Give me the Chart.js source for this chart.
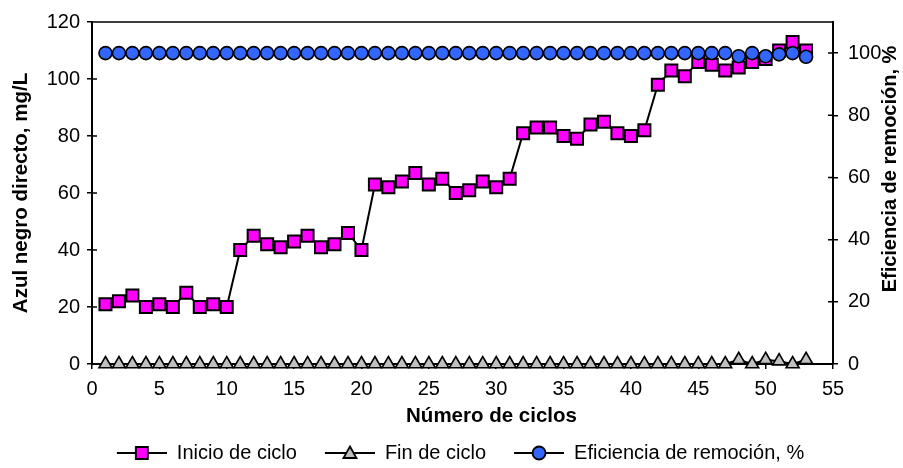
<!DOCTYPE html>
<html>
<head>
<meta charset="utf-8">
<script src="https://cdn.jsdelivr.net/npm/chart.js@4.4.0/dist/chart.umd.min.js"></script>
<style>
  html, body { margin: 0; padding: 0; background: #fff; }
</style>
</head>
<body>
<canvas id="grafico" width="903" height="468"></canvas>
<script>
// datos
const ciclos = [1, 2, 3, 4, 5, 6, 7, 8, 9, 10, 11, 12, 13, 14, 15, 16, 17, 18, 19, 20,
  21, 22, 23, 24, 25, 26, 27, 28, 29, 30, 31, 32, 33, 34, 35, 36, 37, 38, 39, 40,
  41, 42, 43, 44, 45, 46, 47, 48, 49, 50, 51, 52, 53];
const inicioCiclo = [21, 22, 24, 20, 21, 20, 25, 20, 21, 20,
  40, 45, 42, 41, 43, 45, 41, 42, 46, 40,
  63, 62, 64, 67, 63, 65, 60, 61, 64, 62,
  65, 81, 83, 83, 80, 79, 84, 85, 81, 80,
  82, 98, 103, 101, 106, 105, 103, 104, 106, 107,
  110, 113, 110];
const finCiclo = [0, 0, 0, 0, 0, 0, 0, 0, 0, 0,
  0, 0, 0, 0, 0, 0, 0, 0, 0, 0,
  0, 0, 0, 0, 0, 0, 0, 0, 0, 0,
  0, 0, 0, 0, 0, 0, 0, 0, 0, 0,
  0, 0, 0, 0, 0, 0, 0, 1.5, 0, 1.5,
  1, 0, 1.5];
const eficiencia = [100, 100, 100, 100, 100, 100, 100, 100, 100, 100,
  100, 100, 100, 100, 100, 100, 100, 100, 100, 100,
  100, 100, 100, 100, 100, 100, 100, 100, 100, 100,
  100, 100, 100, 100, 100, 100, 100, 100, 100, 100,
  100, 100, 100, 100, 100, 100, 100, 99, 100, 99,
  99.6, 100, 98.8];
const ticksX = [0, 5, 10, 15, 20, 25, 30, 35, 40, 45, 50, 55];
const ticksIzq = [0, 20, 40, 60, 80, 100, 120];
const ticksDer = [0, 20, 40, 60, 80, 100];

const tituloX = 'Número de ciclos';
const tituloIzq = 'Azul negro directo, mg/L';
const tituloDer = 'Eficiencia de remoción, %';

const fuente = '"Liberation Sans", Arial, sans-serif';
Chart.defaults.color = '#000';
Chart.defaults.font.family = fuente;

function aPuntos(valores) {
  return ciclos.map(function(c, i) {
    return { x: c, y: valores[i] };
  });
}

// icono de leyenda: linea con marcador
function iconoLeyenda(forma, relleno) {
  const c = document.createElement('canvas');
  c.width = 68;
  c.height = 18;
  const g = c.getContext('2d');
  g.strokeStyle = '#000';
  g.lineWidth = 2;
  g.beginPath();
  g.moveTo(18, 9);
  g.lineTo(68, 9);
  g.stroke();
  g.fillStyle = relleno;
  g.lineWidth = 1.8;
  g.beginPath();
  const cx = 43, cy = 9;
  if (forma === 'rect') {
    g.rect(cx - 6, cy - 6, 12, 12);
  } else if (forma === 'triangle') {
    g.moveTo(cx, cy - 6.5);
    g.lineTo(cx + 6.5, cy + 5);
    g.lineTo(cx - 6.5, cy + 5);
    g.closePath();
  } else {
    g.arc(cx, cy, 6.5, 0, Math.PI * 2);
  }
  g.fill();
  g.stroke();
  return c;
}

const marcoPlugin = {
  id: 'marco',
  beforeDatasetsDraw(chart) {
    const ctx = chart.ctx;
    const a = chart.chartArea;
    const sx = chart.scales.x, sy = chart.scales.y, sy1 = chart.scales.y1;
    ctx.save();
    ctx.strokeStyle = '#000';
    ctx.lineWidth = 1.5;
    ctx.beginPath();
    ctx.moveTo(a.left, a.top);
    ctx.lineTo(a.right, a.top);
    sx.ticks.forEach(function(t) {
      const p = sx.getPixelForValue(t.value);
      ctx.moveTo(p, a.bottom);
      ctx.lineTo(p, a.bottom - 5);
    });
    sy.ticks.forEach(function(t) {
      const p = sy.getPixelForValue(t.value);
      ctx.moveTo(a.left, p);
      ctx.lineTo(a.left + 5, p);
    });
    sy1.ticks.forEach(function(t) {
      const p = sy1.getPixelForValue(t.value);
      ctx.moveTo(a.right, p);
      ctx.lineTo(a.right - 5, p);
    });
    ctx.stroke();
    ctx.restore();
  },
  afterDraw(chart) {
    const ctx = chart.ctx;
    const a = chart.chartArea;
    ctx.save();
    ctx.font = 'bold 20.5px ' + fuente;
    ctx.fillStyle = '#000';
    ctx.textAlign = 'center';
    ctx.textBaseline = 'middle';
    // titulo del eje x, algo desplazado a la derecha como en el original
    ctx.fillText(tituloX, (a.left + a.right) / 2 + 29, a.bottom + 52);
    // titulo del eje derecho, se lee de abajo hacia arriba
    ctx.translate(a.right + 57, a.top + 147);
    ctx.rotate(-Math.PI / 2);
    ctx.font = 'bold 20px ' + fuente;
    ctx.fillText(tituloDer, 0, 0);
    ctx.restore();
  }
};

const iconos = [
  iconoLeyenda('rect', '#FF00FF'),
  iconoLeyenda('triangle', '#C0C0C0'),
  iconoLeyenda('circle', '#3366FF')
];

const grafico = new Chart(document.getElementById('grafico').getContext('2d'), {
  type: 'line',
  data: {
    datasets: [
      {
        label: 'Inicio de ciclo',
        data: aPuntos(inicioCiclo),
        yAxisID: 'y',
        borderColor: '#000',
        borderWidth: 2,
        pointStyle: 'rect',
        pointRadius: 8.5,
        pointBackgroundColor: '#FF00FF',
        pointBorderColor: '#000',
        pointBorderWidth: 2,
        tension: 0,
        clip: false,
        order: 1
      },
      {
        label: 'Fin de ciclo',
        data: aPuntos(finCiclo),
        yAxisID: 'y',
        borderColor: '#000',
        borderWidth: 2,
        pointStyle: 'triangle',
        pointRadius: 7.5,
        pointBackgroundColor: '#C0C0C0',
        pointBorderColor: '#000',
        pointBorderWidth: 1.6,
        tension: 0,
        clip: false,
        order: 2
      },
      {
        label: 'Eficiencia de remoción, %',
        data: aPuntos(eficiencia),
        yAxisID: 'y1',
        borderColor: '#000',
        borderWidth: 2,
        pointStyle: 'circle',
        pointRadius: 6.5,
        pointBackgroundColor: '#3366FF',
        pointBorderColor: '#000',
        pointBorderWidth: 1.6,
        tension: 0,
        clip: false,
        order: 0
      }
    ]
  },
  options: {
    responsive: false,
    animation: false,
    layout: { padding: { top: 17, left: 0, right: 0, bottom: 0 } },
    plugins: {
      tooltip: { enabled: false },
      legend: {
        position: 'bottom',
        maxHeight: 35,
        labels: {
          font: { size: 20 },
          usePointStyle: true,
          pointStyleWidth: 68,
          padding: 10,
          generateLabels: function(chart) {
            return chart.data.datasets.map(function(ds, i) {
              return {
                text: ds.label,
                pointStyle: iconos[i],
                datasetIndex: i,
                hidden: false,
                fontColor: '#000',
                lineWidth: 0
              };
            });
          }
        }
      }
    },
    scales: {
      x: {
        type: 'linear',
        min: 0,
        max: 55,
        afterBuildTicks: function(s) { s.ticks = ticksX.map(function(v) { return { value: v }; }); },
        afterFit: function(s) { s.height = 69; },
        ticks: { font: { size: 20 }, padding: 8, maxRotation: 0 },
        grid: { drawOnChartArea: false, tickLength: 5, color: '#000', lineWidth: 1.5 },
        border: { color: '#000', width: 2 },
        title: { display: false }
      },
      y: {
        position: 'left',
        min: 0,
        max: 120,
        afterBuildTicks: function(s) { s.ticks = ticksIzq.map(function(v) { return { value: v }; }); },
        afterFit: function(s) { s.width = 92; },
        ticks: { font: { size: 20 }, padding: 7 },
        grid: { drawOnChartArea: false, tickLength: 5, color: '#000', lineWidth: 1.5 },
        border: { color: '#000', width: 2 },
        title: { display: true, text: tituloIzq, font: { size: 20.5, weight: 'bold' }, padding: { top: 9, bottom: 0 } }
      },
      y1: {
        position: 'right',
        min: 0,
        max: 110,
        afterBuildTicks: function(s) { s.ticks = ticksDer.map(function(v) { return { value: v }; }); },
        afterFit: function(s) { s.width = 70; },
        ticks: { font: { size: 20 }, padding: 10 },
        grid: { drawOnChartArea: false, tickLength: 5, color: '#000', lineWidth: 1.5 },
        border: { color: '#000', width: 2 }
      }
    }
  },
  plugins: [marcoPlugin]
});
</script>
</body>
</html>
